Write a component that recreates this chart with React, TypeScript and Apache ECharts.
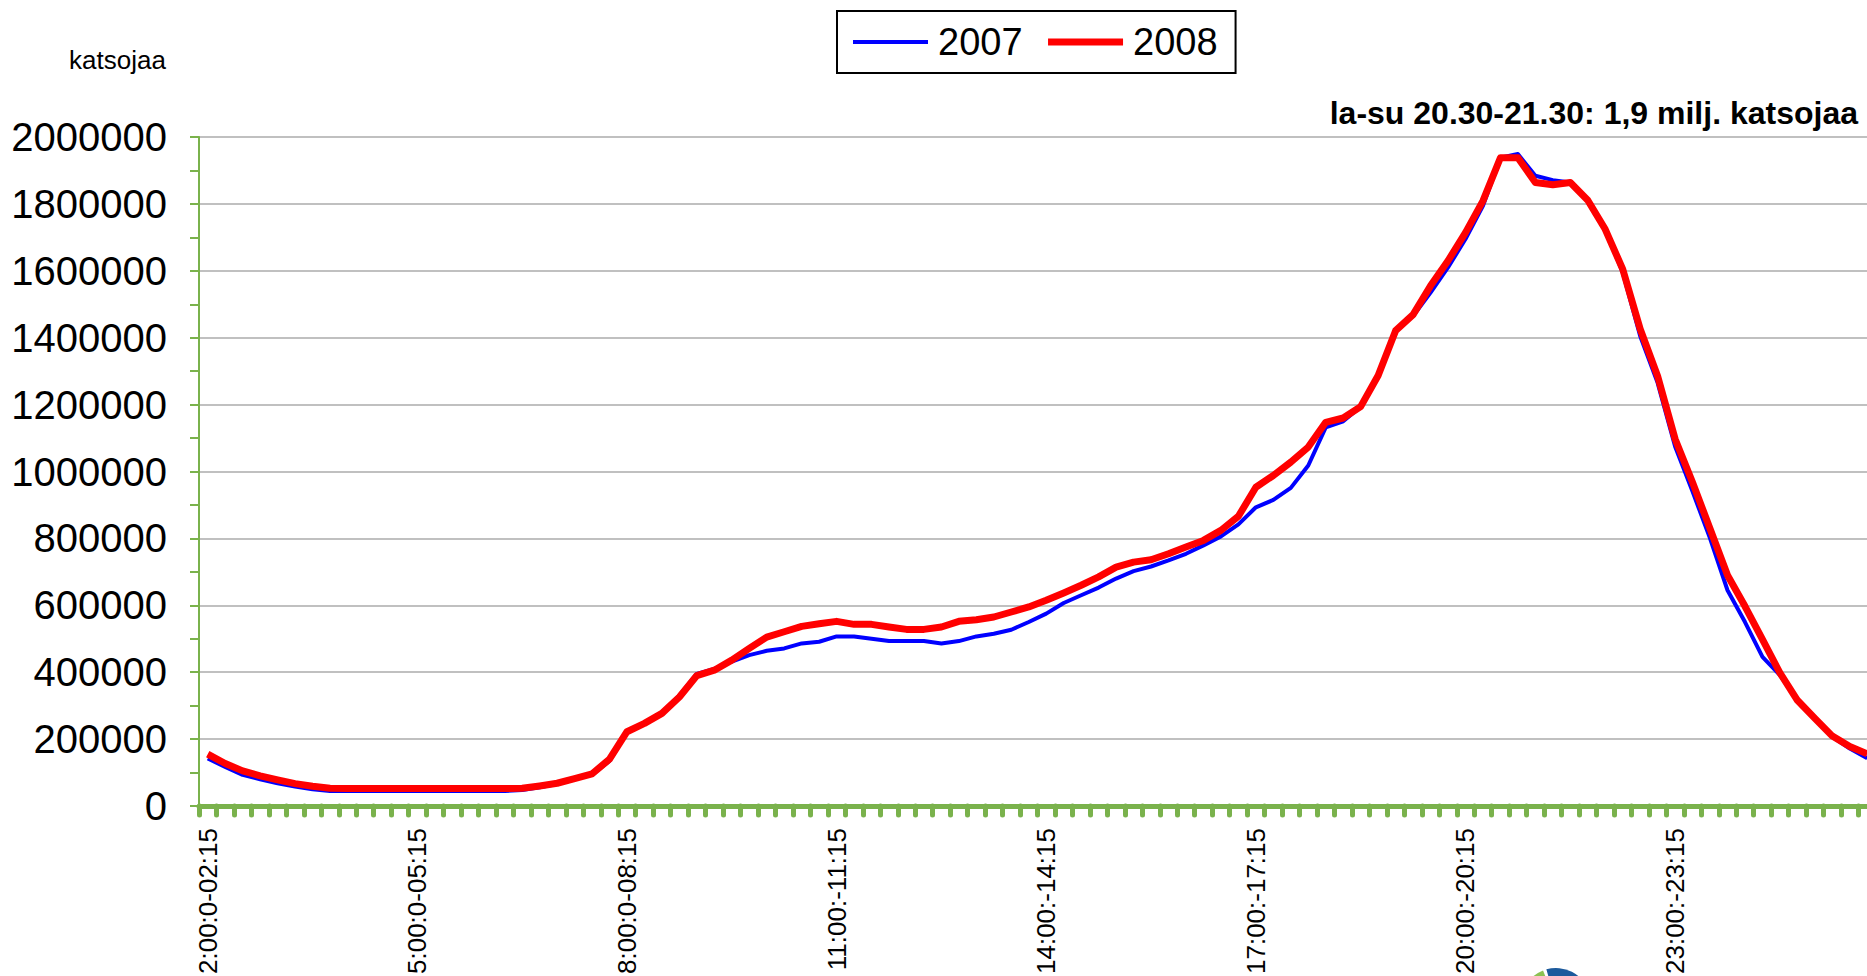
import React, { useEffect, useRef } from "react";
import * as echarts from "echarts";

// 15-minute slots from 02:00 to 01:45 next day (96 slots)
const pad = (n: number) => String(n).padStart(2, "0");
const slotLabel = (i: number) => {
  const h = (2 + Math.floor(i / 4)) % 24;
  const m = (i % 4) * 15;
  const eh = (2 + Math.floor((i + 1) / 4)) % 24;
  const em = ((i + 1) % 4) * 15;
  return h < 10 ? `${h}:${pad(m)}:0-${pad(eh)}:${pad(em)}` : `${h}:${pad(m)}:-${pad(eh)}:${pad(em)}`;
};
const categories: string[] = Array.from({ length: 96 }, (_, i) => slotLabel(i));

const seriesNames = ["2007", "2008"];

// viewers, thousands
const viewers2007 = [
  142, 117, 93, 80, 68, 58, 50, 45, 45, 45, 45, 45, 45, 45, 45, 45,
  45, 45, 48, 56, 66, 80, 94, 135, 220, 248, 280, 330, 395, 410, 432, 451,
  464, 471, 486, 491, 507, 507, 500, 493, 493, 493, 486, 493, 507, 515, 527, 550,
  575, 607, 630, 653, 680, 702, 716, 734, 754, 779, 806, 842, 893, 915, 951, 1018,
  1132, 1150, 1194, 1287, 1421, 1465, 1535, 1610, 1695, 1794, 1938, 1949, 1884, 1871, 1864, 1811,
  1724, 1595, 1405, 1265, 1075, 940, 800, 645, 550, 446, 391, 316, 262, 207, 172, 143,
];
const viewers2008 = [
  155, 127, 105, 90, 78, 67, 59, 53, 52, 52, 52, 52, 52, 52, 52, 52,
  52, 52, 53, 60, 68, 82, 96, 140, 222, 247, 277, 326, 390, 406, 436, 471,
  505, 521, 537, 545, 552, 543, 543, 535, 528, 528, 535, 552, 557, 565, 580, 595,
  615, 637, 660, 685, 714, 729, 736, 754, 774, 794, 824, 866, 953, 988, 1028, 1073,
  1147, 1160, 1194, 1287, 1421, 1469, 1555, 1630, 1714, 1809, 1938, 1938, 1864, 1857, 1864, 1811,
  1724, 1605, 1426, 1285, 1097, 967, 829, 690, 597, 498, 398, 316, 262, 209, 178, 156,
];

const yTicks = { min: 0, max: 2000000, interval: 200000 };
const unitLabel = "katsojaa";
const annotation = "la-su 20.30-21.30: 1,9 milj. katsojaa";

const FONT = "'Liberation Sans', Arial, sans-serif";
const GREEN = "#7ab24c";
const BLUE = "#0000ff";
const RED = "#ff0000";

export default function App() {
  const ref = useRef<HTMLDivElement>(null);
  useEffect(() => {
    if (!ref.current) return;
    const chart = echarts.init(ref.current, null, { renderer: "svg" });
    chart.setOption({
      animation: false,
      backgroundColor: "#ffffff",
      textStyle: { fontFamily: FONT },
      title: {
        text: annotation,
        right: 9,
        top: 97,
        padding: 0,
        textStyle: { fontFamily: FONT, fontSize: 32, fontWeight: "bold", color: "#000" },
      },
      legend: {
        data: [
          { name: seriesNames[0], lineStyle: { width: 4, color: BLUE } },
          { name: seriesNames[1], lineStyle: { width: 7, color: RED } },
        ],
        left: 837,
        top: 11,
        itemWidth: 75,
        itemHeight: 14,
        itemGap: 22,
        padding: [12, 18, 12, 14],
        borderColor: "#000",
        borderWidth: 2,
        itemStyle: { opacity: 0, borderWidth: 0, color: "rgba(0,0,0,0)" },
        textStyle: { fontFamily: FONT, fontSize: 38, color: "#000", padding: [0, 0, 0, 5] },
      },
      grid: { left: 199, right: -9, top: 137, bottom: 170, containLabel: false, outerBoundsMode: "none" },
      xAxis: {
        type: "category",
        data: categories,
        boundaryGap: true,
        axisLine: { show: true, lineStyle: { color: GREEN, width: 5 } },
        axisTick: { show: true, interval: 0, length: 9, lineStyle: { color: GREEN, width: 5, cap: "round" } },
        axisLabel: {
          interval: 11,
          rotate: 90,
          margin: 22,
          fontSize: 26,
          color: "#000",
          fontFamily: FONT,
        },
        splitLine: { show: false },
      },
      yAxis: {
        type: "value",
        min: yTicks.min,
        max: yTicks.max,
        interval: yTicks.interval,
        axisLine: { show: true, lineStyle: { color: GREEN, width: 2 } },
        axisTick: { show: true, length: 9, lineStyle: { color: GREEN, width: 2 } },
        minorTick: { show: true, splitNumber: 2, length: 9, lineStyle: { color: GREEN, width: 2 } },
        axisLabel: {
          fontSize: 40,
          color: "#000",
          margin: 32,
          fontFamily: FONT,
          formatter: (v: number) => String(v),
        },
        splitLine: { show: true, lineStyle: { color: "#c0c0c0", width: 2 } },
      },
      graphic: [
        {
          type: "text",
          left: 69,
          top: 47,
          style: { text: unitLabel, font: `26px ${FONT}`, fill: "#000" },
        },
        {
          type: "sector",
          shape: { cx: 1556, cy: 1003, r: 35, r0: 0, startAngle: -1.85, endAngle: -0.35 },
          style: { fill: "#1c5a9c" },
        },
        {
          type: "sector",
          shape: { cx: 1556, cy: 1003, r: 35, r0: 0, startAngle: -2.7, endAngle: -1.95 },
          style: { fill: "#8cc152" },
        },
      ],
      series: [
        {
          name: seriesNames[0],
          type: "line",
          data: viewers2007.map((v) => v * 1000),
          symbol: "none",
          lineStyle: { color: BLUE, width: 4, join: "round" },
          itemStyle: { color: BLUE },
          z: 2,
        },
        {
          name: seriesNames[1],
          type: "line",
          data: viewers2008.map((v) => v * 1000),
          symbol: "none",
          lineStyle: { color: RED, width: 7, join: "round" },
          itemStyle: { color: RED },
          z: 3,
        },
      ],
    });
    return () => chart.dispose();
  }, []);
  return (
    <div style={{ position: "fixed", left: 0, top: 0, width: 1867, height: 976, overflow: "hidden", background: "#fff" }}>
      <div ref={ref} style={{ width: 1867, height: 976 }} />
    </div>
  );
}
